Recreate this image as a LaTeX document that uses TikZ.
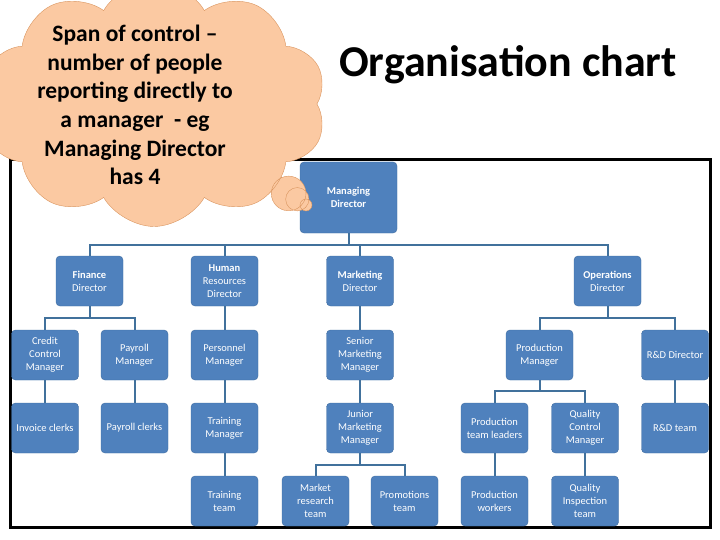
\documentclass[tikz,border=0pt]{standalone}
\usepackage{fontspec}
\setmainfont{Carlito}
\usepackage{xcolor}
\usepackage{tikz}
\usetikzlibrary{shapes.callouts,shapes.symbols}
\definecolor{BoxBlue}{HTML}{4F81BD}
\definecolor{BoxEdge}{HTML}{3F6C9F}
\definecolor{LinkBlue}{HTML}{41719C}
\definecolor{CloudFill}{HTML}{FBC9A2}
\definecolor{CloudEdge}{HTML}{D9955F}

\begin{document}
\begin{tikzpicture}[x=1pt,y=-1pt,
  orgbox/.style={rectangle,rounded corners=4pt,fill=BoxBlue,draw=BoxEdge,text=white,align=center,
    font=\fontsize{10.5}{13}\selectfont,minimum width=67pt,minimum height=50pt,inner sep=1pt},
  link/.style={draw=LinkBlue,line width=2pt},
  frame/.style={draw=black,line width=3pt}
]
\useasboundingbox (0,0) rectangle (720,540);
\draw[frame] (10,160) rectangle (710,527);

\node[font=\fontsize{44}{50}\selectfont\bfseries,anchor=base] (title) at (508,77) {Organisation chart};

% top two levels
\node[orgbox,minimum width=97pt,minimum height=71pt] (md) at (348.5,197.5) {\textbf{Managing}\\\textbf{Director}};
\node[orgbox] (fin) at (89.5,281) {\textbf{Finance}\\Director};
\node[orgbox] (hr) at (224.5,281) {\textbf{Human}\\Resources\\Director};
\node[orgbox] (mkt) at (360,281) {\textbf{Marketing}\\Director};
\node[orgbox] (ops) at (607.5,281) {\textbf{Operations}\\Director};

% managers
\node[orgbox] (cred) at (45,355) {Credit\\Control\\Manager};
\node[orgbox] (payr) at (134.5,355) {Payroll\\Manager};
\node[orgbox] (pers) at (224.5,355) {Personnel\\Manager};
\node[orgbox] (smm) at (360,355) {Senior\\Marketing\\Manager};
\node[orgbox] (prodm) at (539.5,355) {Production\\Manager};
\node[orgbox] (rnd) at (675,355) {R\&D Director};

\node[orgbox] (inv) at (45,428) {Invoice clerks};
\node[orgbox] (payc) at (134.5,428) {Payroll clerks};
\node[orgbox] (trm) at (224.5,428) {Training\\Manager};
\node[orgbox] (jmm) at (360,428) {Junior\\Marketing\\Manager};
\node[orgbox] (ptl) at (494.5,428) {Production\\team leaders};
\node[orgbox] (qcm) at (585,428) {Quality\\Control\\Manager};
\node[orgbox] (rndt) at (675,428) {R\&D team};

% teams
\node[orgbox] (trt) at (224.5,501) {Training\\team};
\node[orgbox] (mrt) at (315.5,501) {Market\\research\\team};
\node[orgbox] (prom) at (404.5,501) {Promotions\\team};
\node[orgbox] (pw) at (494.5,501) {Production\\workers};
\node[orgbox] (qit) at (585,501) {Quality\\Inspection\\team};

% reporting lines
\foreach \c in {fin,hr,mkt,ops} \draw[link] (md.south) -- ++(0,12) -| (\c.north);
\foreach \c in {cred,payr} \draw[link] (fin.south) -- ++(0,12) -| (\c.north);
\foreach \c in {prodm,rnd} \draw[link] (ops.south) -- ++(0,12) -| (\c.north);
\foreach \c in {ptl,qcm} \draw[link] (prodm.south) -- ++(0,11) -| (\c.north);
\foreach \c in {mrt,prom} \draw[link] (jmm.south) -- ++(0,12) -| (\c.north);
\draw[link] (hr) -- (pers);
\draw[link] (pers) -- (trm);
\draw[link] (trm) -- (trt);
\draw[link] (mkt) -- (smm);
\draw[link] (smm) -- (jmm);
\draw[link] (rnd) -- (rndt);
\draw[link] (cred) -- (inv);
\draw[link] (payr) -- (payc);
\draw[link] (ptl) -- (pw);
\draw[link] (qcm) -- (qit);

% thought bubble
\node[cloud callout,cloud puffs=10,cloud puff arc=120,aspect=1.5,fill=CloudFill,draw=CloudEdge,
  minimum width=345pt,minimum height=245pt,callout absolute pointer={(306,205)},
  callout pointer segments=3,callout pointer start size=46pt and 46pt,callout pointer end size=12pt and 12pt]
  (bubble) at (154,104) {};
\node[font=\fontsize{23.5}{28.7}\selectfont\bfseries,align=center] (span) at (135,105)
  {Span of control –\\number of people\\reporting directly to\\a manager \ - eg\\Managing Director\\has 4};
\end{tikzpicture}
\end{document}
